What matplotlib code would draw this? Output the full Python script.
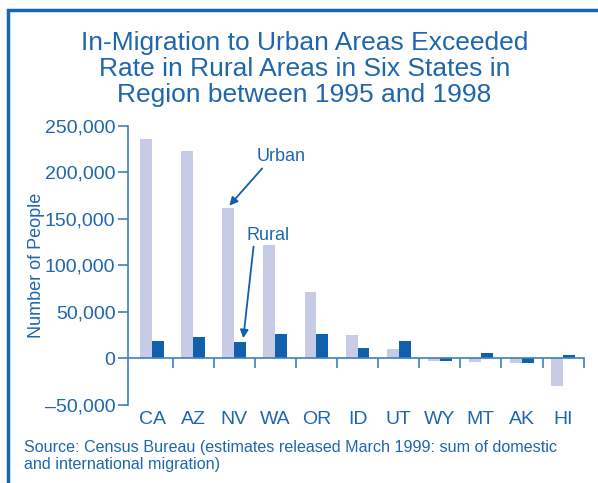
import numpy as np
import matplotlib.pyplot as plt
from matplotlib.patches import Rectangle

plt.rcParams['font.family'] = ['Liberation Sans', 'DejaVu Sans']

# --- Data ---
states = ['CA', 'AZ', 'NV', 'WA', 'OR', 'ID', 'UT', 'WY', 'MT', 'AK', 'HI']
urban = [235500, 222500, 161000, 121500, 71000, 24500, 9500, -3200, -4500, -5500, -29500]
rural = [19000, 22500, 17200, 25500, 26500, 11500, 19000, -3500, 6000, -5500, 4000]
yticks = [-50000, 0, 50000, 100000, 150000, 200000, 250000]

title = ('In-Migration to Urban Areas Exceeded\n'
         'Rate in Rural Areas in Six States in\n'
         'Region between 1995 and 1998')
source = ('Source: Census Bureau (estimates released March 1999: sum of domestic\n'
          'and international migration)')

text_col = '#1f66ad'
axis_col = '#3f7fbf'
urban_col = '#c8cbe5'
rural_col = '#1160ab'

fig = plt.figure(figsize=(5.98, 4.83), dpi=100)
ax = fig.add_axes([0.214, 0.162, 0.762, 0.578])

x = np.arange(len(states))
w = 0.29
ax.bar(x - w / 2, urban, width=w, color=urban_col)
ax.bar(x + w / 2, rural, width=w, color=rural_col)

ax.set_xlim(-0.585, len(states) - 0.5)
ax.set_ylim(-50000, 250000)

# axes styling
for side in ['top', 'right']:
    ax.spines[side].set_visible(False)
ax.spines['left'].set_color(axis_col)
ax.spines['bottom'].set_color(axis_col)
ax.spines['bottom'].set_position(('data', 0))
ax.spines['left'].set_linewidth(1.2)
ax.spines['bottom'].set_linewidth(1.2)

ax.set_yticks(yticks)
ax.set_yticklabels([f'{v:,}'.replace('-', '\u2013') for v in yticks])
ax.tick_params(axis='y', colors=axis_col, labelcolor=text_col, labelsize=14,
               length=7, width=1.2, pad=2)

# group boundary ticks on the zero line, state names below the plot
ax.set_xticks(np.arange(1, len(states) + 1) - 0.5)
ax.set_xticklabels([])
ax.tick_params(axis='x', which='major', colors=axis_col, length=7, width=1.2)
ax.set_xticks(x, minor=True)
ax.set_xticklabels(states, minor=True)
ax.tick_params(axis='x', which='minor', length=0, labelsize=14,
               labelcolor=text_col, pad=38)

ax.set_ylabel('Number of People', fontsize=13, color=text_col, labelpad=0)

# annotations
arrow = dict(arrowstyle='-|>', color=rural_col, lw=1.3, mutation_scale=12,
             shrinkA=0, shrinkB=0)
ax.annotate('Urban', xy=(1.88, 164000), xytext=(3.15, 217000), fontsize=13,
            color=text_col, ha='center', va='center')
ax.annotate('', xy=(1.88, 164000), xytext=(2.68, 204000), arrowprops=arrow)
ax.annotate('Rural', xy=(2.22, 21500), xytext=(2.82, 132000), fontsize=13,
            color=text_col, ha='center', va='center')
ax.annotate('', xy=(2.22, 21500), xytext=(2.47, 120000), arrowprops=arrow)

fig.text(0.509, 0.857, title, fontsize=19, color=text_col, ha='center',
         va='center', linespacing=1.1)
fig.text(0.040, 0.056, source, fontsize=11.6, color=text_col, ha='left',
         va='center', linespacing=1.15)

# frame line on left and top
fig.patches.append(Rectangle((8 / 598, -0.5), 2, 0.5 + 1 - 9.5 / 483,
                             transform=fig.transFigure, fill=False,
                             edgecolor='#1565b0', lw=2.5))

fig.savefig('out.png', dpi=100)
